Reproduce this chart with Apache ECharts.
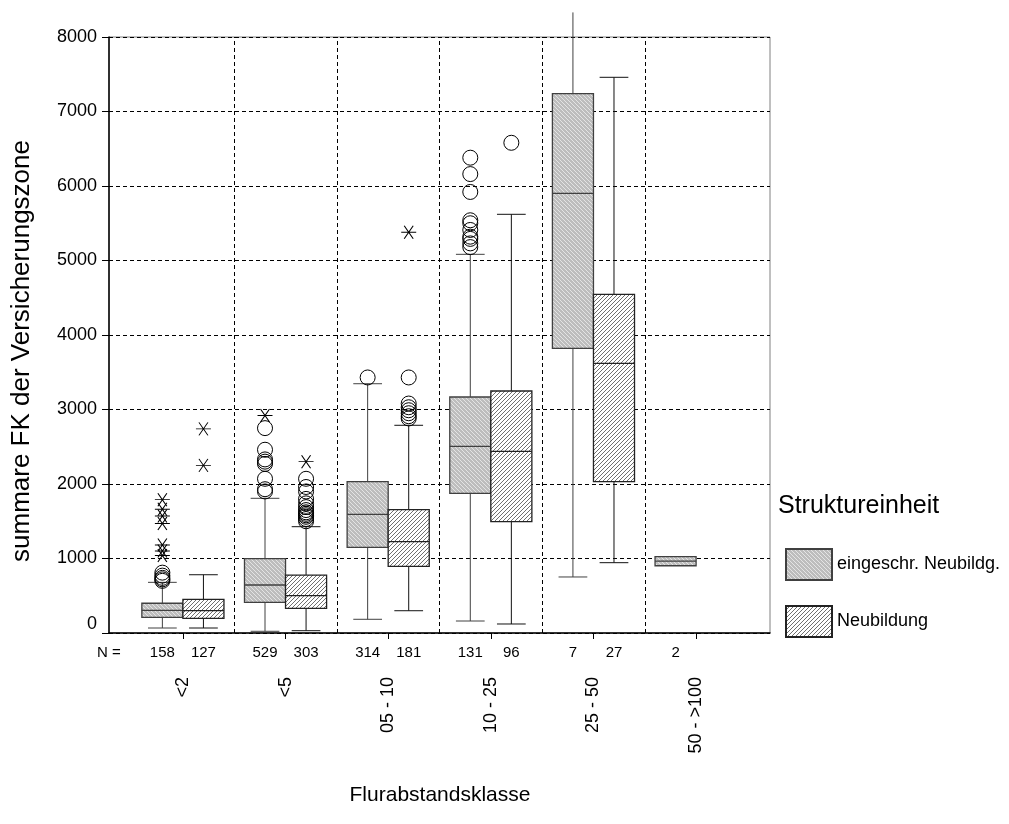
<!DOCTYPE html>
<html>
<head>
<meta charset="utf-8">
<script src="https://cdn.jsdelivr.net/npm/echarts@6/dist/echarts.min.js"></script>
<style>
html,body{margin:0;padding:0;background:#fff;}
#chart{width:1009px;height:824px;}
</style>
</head>
<body>
<div id="chart"></div>
<script>
// ---------- data ----------
const categories = ['<2', '<5', '05 - 10', '10 - 25', '25 - 50', '50 - >100'];
const seriesNames = ['eingeschr. Neubildg.', 'Neubildung'];
const yTickValues = [0, 1000, 2000, 3000, 4000, 5000, 6000, 7000, 8000];
const groupSeparators = [0.5, 1.5, 2.5, 3.5, 4.5];

// [lower whisker, Q1, median, Q3, upper whisker]
const boxEingeschr = [
  [67, 211, 305, 399, 680],
  [23, 412, 644, 997, 1808],
  [184, 1150, 1593, 2031, 3346],
  [161, 1875, 2506, 3168, 5083],
  [752, 3821, 5902, 7239, 8330],
  [903, 903, 966, 1024, 1024]
];
const boxNeubildung = [
  [67, 197, 299, 452, 782],
  [31, 331, 501, 778, 1427],
  [299, 895, 1226, 1655, 2788],
  [121, 1494, 2439, 3248, 5620],
  [944, 2031, 3620, 4546, 7459],
  null
];
const nEingeschr = [158, 529, 314, 131, 7, 2];
const nNeubildung = [127, 303, 181, 96, 27, null];

const circlesEingeschr = [
  [810, 770, 740, 720, 700],
  [2750, 2460, 2330, 2300, 2270, 2070, 1930, 1900],
  [3430],
  [6380, 6160, 5920, 5540, 5500, 5410, 5320, 5290, 5230, 5180],
  [],
  []
];
const starsEingeschr = [
  [1790, 1660, 1570, 1470, 1180, 1100, 1040],
  [2920],
  [], [], [], []
];
const circlesNeubildung = [
  [],
  [2070, 1960, 1900, 1800, 1740, 1690, 1650, 1620, 1600, 1580, 1560, 1530, 1500],
  [3430, 3080, 3030, 2990, 2950, 2910, 2880],
  [6580],
  [], []
];
const starsNeubildung = [
  [2740, 2250],
  [2300],
  [5380],
  [], [], []
];

// ---------- styling helpers ----------
const FONT = '"Liberation Sans", Arial, Helvetica, sans-serif';
const OFFSET = 0.2;      // box centre offset from group centre (axis units)
const HALF_BOX = 0.2;    // half box width (axis units)
const HALF_CAP = 0.14;   // half whisker cap width (axis units)
const Y_MAX = 8000;

function makePattern(bg, fg, down) {
  const c = document.createElement('canvas');
  c.width = 4; c.height = 4;
  const g = c.getContext('2d');
  g.fillStyle = bg; g.fillRect(0, 0, 4, 4);
  g.fillStyle = fg;
  for (let i = 0; i < 4; i++) {
    const x = down ? i : 3 - i;
    g.fillRect(x, i, 1, 1);
  }
  return c;
}
const patternE = { image: makePattern('#bdbdbd', '#e4e4e4', true), repeat: 'repeat' };
const patternN = { image: makePattern('#ffffff', '#707070', false), repeat: 'repeat' };

function boxSeries(name, boxes, ns, offset, fill, stroke, whisk) {
  const data = [];
  boxes.forEach((b, i) => { if (b) data.push([i + offset, b[0], b[1], b[2], b[3], b[4], ns[i]]); });
  return {
    type: 'custom',
    name: name,
    silent: true,
    clip: false,
    z: 3,
    itemStyle: { color: fill, borderColor: stroke, borderWidth: 1 },
    dimensions: ['x', 'lo', 'q1', 'med', 'q3', 'hi', 'n'],
    encode: { x: 0, y: [1, 2, 3, 4, 5] },
    data: data,
    renderItem: function (params, api) {
      const x = api.value(0);
      const lo = api.value(1), q1 = api.value(2), med = api.value(3), q3 = api.value(4), hi = api.value(5);
      const n = api.value(6);
      const tl = api.coord([x - HALF_BOX, q3]);
      const br = api.coord([x + HALF_BOX, q1]);
      const cTop = api.coord([x, hi]);
      const cQ3 = api.coord([x, q3]);
      const cQ1 = api.coord([x, q1]);
      const cLo = api.coord([x, lo]);
      const mL = api.coord([x - HALF_BOX, med]);
      const mR = api.coord([x + HALF_BOX, med]);
      const capL = api.coord([x - HALF_CAP, lo]);
      const capR = api.coord([x + HALF_CAP, lo]);
      const capLh = api.coord([x - HALF_CAP, hi]);
      const capRh = api.coord([x + HALF_CAP, hi]);
      const base = api.coord([x, 0]);
      const lineStyle = { stroke: whisk, lineWidth: 1 };
      const children = [];
      if (hi > q3) children.push({ type: 'line', shape: { x1: cTop[0], y1: cTop[1], x2: cQ3[0], y2: cQ3[1] }, style: lineStyle });
      if (lo < q1) children.push({ type: 'line', shape: { x1: cQ1[0], y1: cQ1[1], x2: cLo[0], y2: cLo[1] }, style: lineStyle });
      if (hi > q3 && hi <= Y_MAX) children.push({ type: 'line', shape: { x1: capLh[0], y1: capLh[1], x2: capRh[0], y2: capRh[1] }, style: lineStyle });
      if (lo < q1) children.push({ type: 'line', shape: { x1: capL[0], y1: capL[1], x2: capR[0], y2: capR[1] }, style: lineStyle });
      children.push({
        type: 'rect',
        shape: { x: tl[0], y: tl[1], width: br[0] - tl[0], height: br[1] - tl[1] },
        style: { fill: fill, stroke: stroke, lineWidth: 1.3 }
      });
      children.push({ type: 'line', shape: { x1: mL[0], y1: mL[1], x2: mR[0], y2: mR[1] }, style: { stroke: stroke, lineWidth: 1.3 } });
      children.push({
        type: 'text', x: base[0], y: base[1] + 20,
        style: { text: String(n), align: 'center', verticalAlign: 'middle', fontSize: 15, fontFamily: FONT, fill: '#000' }
      });
      return { type: 'group', children: children };
    }
  };
}

function pointsFrom(lists, offset) {
  const out = [];
  lists.forEach((vals, i) => vals.forEach(v => out.push([i + offset, v])));
  return out;
}

const STAR = 'path://M0,6.5 L15,6.5 M3,0 L12,13 M3,13 L12,0';

const option = {
  animation: false,
  backgroundColor: '#ffffff',
  textStyle: { fontFamily: FONT },
  grid: { left: 109, right: 239, top: 37, bottom: 191, show: true, borderColor: '#808080', borderWidth: 1, backgroundColor: 'transparent' },
  xAxis: {
    type: 'value', min: -0.72, max: 5.72,
    axisLine: { show: true, onZero: false, lineStyle: { color: '#000', width: 1.5 } },
    axisTick: { show: true, customValues: [0, 1, 2, 3, 4, 5], length: 6, lineStyle: { color: '#000', width: 1 } },
    axisLabel: {
      customValues: [0, 1, 2, 3, 4, 5],
      formatter: v => categories[Math.round(v)],
      rotate: 90, margin: 44, fontSize: 18, color: '#000', fontFamily: FONT
    },
    splitLine: { show: false }
  },
  yAxis: {
    type: 'value', min: 0, max: 8000, interval: 1000,
    axisLine: { show: true, onZero: false, lineStyle: { color: '#000', width: 1.5 } },
    axisTick: { show: true, length: 7, lineStyle: { color: '#000', width: 1 } },
    axisLabel: {
      fontSize: 18, color: '#000', fontFamily: FONT, margin: 12,
      formatter: v => (v === 0 ? '{z|0}' : String(v)),
      rich: { z: { fontSize: 18, color: '#000', fontFamily: FONT, padding: [0, 0, 18, 0] } }
    },
    splitLine: { show: true, lineStyle: { color: '#000', width: 1, type: [4, 3] } }
  },
  legend: {
    data: seriesNames,
    orient: 'vertical', left: 785, top: 548, padding: 0,
    itemWidth: 46, itemHeight: 31, itemGap: 24,
    icon: 'rect', selectedMode: false,
    textStyle: { fontSize: 18, color: '#000', fontFamily: FONT }
  },
  graphic: [
    { type: 'text', x: 778, y: 506, style: { text: 'Struktureinheit', fontSize: 25, fontFamily: FONT, fill: '#000', align: 'left', verticalAlign: 'middle' } },
    { type: 'text', x: 97, y: 653, style: { text: 'N =', fontSize: 15, fontFamily: FONT, fill: '#000', align: 'left', verticalAlign: 'middle' } },
    { type: 'text', x: 440, y: 795, style: { text: 'Flurabstandsklasse', fontSize: 21, fontFamily: FONT, fill: '#000', align: 'center', verticalAlign: 'middle' } },
    { type: 'text', x: 22, y: 351, rotation: Math.PI / 2, style: { text: 'summare FK der Versicherungszone', fontSize: 26, fontFamily: FONT, fill: '#000', align: 'center', verticalAlign: 'middle' } }
  ],
  series: [
    boxSeries(seriesNames[0], boxEingeschr, nEingeschr, -OFFSET, patternE, '#404040', '#404040'),
    boxSeries(seriesNames[1], boxNeubildung, nNeubildung, OFFSET, patternN, '#222222', '#111111'),
    {
      type: 'scatter', name: 'o-e', silent: true, z: 5,
      data: pointsFrom(circlesEingeschr, -OFFSET),
      symbol: 'circle', symbolSize: 15,
      itemStyle: { color: 'rgba(0,0,0,0)', borderColor: '#000', borderWidth: 1, opacity: 1 },
      markLine: {
        silent: true, symbol: 'none', animation: false,
        label: { show: false },
        lineStyle: { color: '#000', width: 1, type: [4, 3] },
        data: groupSeparators.map(v => ({ xAxis: v }))
      }
    },
    {
      type: 'scatter', name: 'o-n', silent: true, z: 5,
      data: pointsFrom(circlesNeubildung, OFFSET),
      symbol: 'circle', symbolSize: 15,
      itemStyle: { color: 'rgba(0,0,0,0)', borderColor: '#000', borderWidth: 1, opacity: 1 }
    },
    {
      type: 'scatter', name: '*-e', silent: true, z: 5,
      data: pointsFrom(starsEingeschr, -OFFSET),
      symbol: STAR, symbolSize: [15, 13],
      itemStyle: { color: 'rgba(0,0,0,0)', borderColor: '#000', borderWidth: 1, opacity: 1 }
    },
    {
      type: 'scatter', name: '*-n', silent: true, z: 5,
      data: pointsFrom(starsNeubildung, OFFSET),
      symbol: STAR, symbolSize: [15, 13],
      itemStyle: { color: 'rgba(0,0,0,0)', borderColor: '#000', borderWidth: 1, opacity: 1 }
    }
  ]
};

const chart = echarts.init(document.getElementById('chart'), null, { renderer: 'canvas' });
chart.setOption(option);
</script>
</body>
</html>
